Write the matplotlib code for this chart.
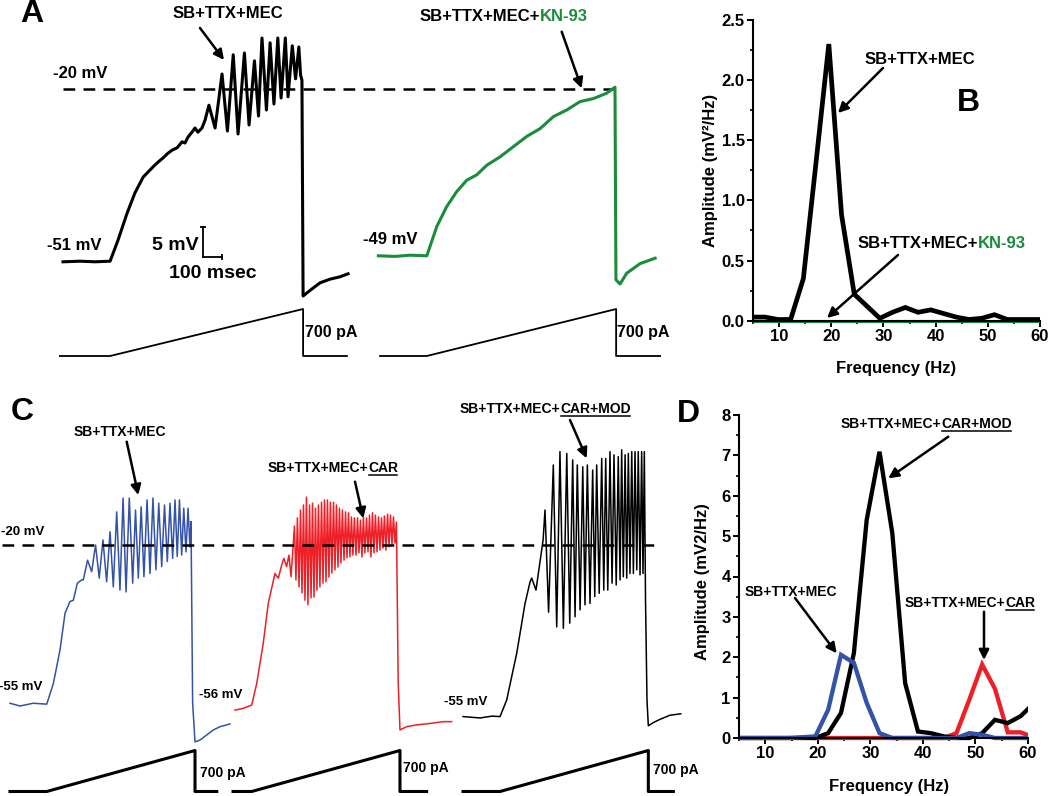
import numpy as np
import matplotlib
matplotlib.use('Agg')
import matplotlib.pyplot as plt
from matplotlib.patches import Rectangle
from matplotlib.ticker import MultipleLocator, FormatStrFormatter

plt.rcParams['font.family'] = ['Liberation Sans', 'DejaVu Sans']
plt.rcParams['font.weight'] = 'bold'

GREEN = '#1a8c3c'
BLUE = '#3352a8'
RED = '#ee1f26'

# ---------------- panel A: membrane potential (ms, mV) ----------------
a_mec_t = [0, 88, 166, 244, 285, 332, 373, 415, 466, 492, 518, 544, 565, 591, 617, 632,
           648, 668, 684, 699, 720, 736, 756, 788, 824, 852, 882, 907, 940, 964, 992, 1013,
           1031, 1054, 1073, 1093, 1113, 1130, 1152, 1166, 1188, 1205, 1222, 1231, 1238, 1244,
           1263, 1295, 1332, 1383, 1435, 1477]
a_mec_mv = [-48.8, -48.7, -48.8, -48.7, -45.2, -40.7, -37.3, -34.7, -33.0, -32.2, -31.5, -30.7,
            -30.2, -29.8, -28.8, -29.0, -28.0, -27.2, -26.5, -27.2, -26.5, -25.2, -22.7, -26.5,
            -17.5, -27.0, -14.3, -27.5, -14.0, -26.0, -15.3, -24.5, -11.5, -23.5, -12.3, -22.5,
            -11.5, -21.5, -11.5, -21.3, -12.8, -18.3, -13.0, -17.7, -18.5, -54.5, -54.0, -53.2,
            -52.3, -51.7, -51.3, -50.8]
a_kn_t = [0, 86, 164, 251, 303, 354, 406, 458, 510, 562, 631, 700, 769, 838, 907, 976,
          1045, 1114, 1183, 1226, 1231, 1252, 1287, 1356, 1434]
a_kn_mv = [-47.8, -47.9, -47.7, -47.8, -42.9, -39.6, -37.1, -35.2, -34.3, -32.7, -31.3, -29.6,
           -27.9, -26.6, -24.6, -23.5, -22.1, -21.6, -20.7, -19.7, -51.8, -52.5, -50.7, -49.1,
           -48.2]
cmd_pa = [0, 0, 700, 0, 0]
a_mec_cmd_t = [-16, 244, 1244, 1244, 1471]
a_kn_cmd_t = [9, 251, 1232, 1232, 1460]

# ---------------- spectra (Hz, mV^2/Hz) ----------------
freq_hz = [4.88, 7.32, 9.77, 12.21, 14.65, 17.09, 19.53, 21.97, 24.41, 26.86, 29.30, 31.74,
           34.18, 36.62, 39.06, 41.50, 43.95, 46.39, 48.83, 51.27, 53.71, 56.15, 58.59, 61.04]
b_mec = [0.03, 0.03, 0.01, 0.01, 0.35, 1.32, 2.30, 0.88, 0.22, 0.12, 0.02, 0.07,
         0.11, 0.07, 0.09, 0.06, 0.03, 0.01, 0.02, 0.05, 0.01, 0.01, 0.01, 0.01]
b_kn = [0.0, 0.0, 0.0, 0.0, 0.0, 0.0, 0.0, 0.0, 0.0, 0.0, 0.0, 0.0,
        0.0, 0.0, 0.0, 0.0, 0.0, 0.0, 0.0, 0.0, 0.0, 0.0, 0.0, 0.0]
d_mec = [0.0, 0.0, 0.0, 0.0, 0.0, 0.02, 0.04, 0.70, 2.06, 1.86, 0.87, 0.12,
         0.0, 0.0, 0.0, 0.0, 0.0, 0.0, 0.12, 0.08, 0.0, 0.0, 0.0, 0.0]
d_car = [None, None, None, None, None, None, 0.0, 0.0, 0.0, 0.0, 0.0, 0.0,
         0.0, 0.0, 0.0, 0.0, 0.0, 0.12, 0.95, 1.82, 1.22, 0.14, 0.14, 0.02]
d_mod = [0.0, 0.0, 0.0, 0.0, 0.0, 0.0, 0.0, 0.12, 0.62, 2.10, 5.40, 7.09,
         5.07, 1.36, 0.16, 0.12, 0.04, 0.0, 0.0, 0.12, 0.45, 0.37, 0.54, 0.85]

# ---------------- panel C traces (ms, mV) ----------------
c_mec_pre_t = [0, 68, 157, 248, 293, 338, 372, 405, 428, 455, 484]
c_mec_pre_mv = [-54.4, -55.0, -54.4, -54.6, -50.1, -42.8, -34.8, -32.3, -32.0, -28.3, -27.6]
c_mec_pk_t = [524, 578, 628, 676, 721, 764, 806, 848, 886, 926, 966, 1005, 1044, 1081, 1115,
              1145, 1174, 1203, 1223]
c_mec_pk_mv = [-23.3, -20.0, -18.9, -17.1, -12.8, -9.8, -9.8, -12.4, -11.7, -10.2, -9.8, -10.9,
               -11.3, -10.9, -10.2, -10.2, -12.0, -12.0, -14.9]
c_mec_tr_t = [495, 552, 603, 653, 698, 743, 784, 829, 867, 905, 946, 986, 1025, 1063, 1099,
              1130, 1160, 1189, 1216]
c_mec_tr_mv = [-27.6, -25.8, -27.2, -28.0, -29.1, -29.8, -30.2, -28.3, -27.2, -26.9, -26.2,
               -25.4, -24.7, -23.6, -22.9, -22.5, -22.2, -21.5, -20.4]
c_mec_post_t = [1234, 1250, 1284, 1329, 1374, 1419, 1486]
c_mec_post_mv = [-54.3, -62.8, -62.4, -61.3, -60.2, -59.5, -58.9]

c_car_pre_t = [137, 193, 250, 284, 328, 362, 385, 407, 430, 453, 468, 486, 502, 516]
c_car_pre_mv = [-55.9, -55.5, -54.8, -50.1, -41.4, -32.7, -29.4, -26.2, -27.2, -24.3, -22.9,
                -24.7, -22.2, -26.9]
c_car_pk_t = [539, 559, 580, 600, 620, 641, 661, 681, 701, 722, 742, 762, 782, 803, 823, 843,
              863, 884, 904, 924, 944, 965, 985, 1005, 1026, 1046, 1066, 1086, 1107, 1127,
              1147, 1168, 1188, 1208, 1228]
c_car_pk_mv = [-15.9, -14.1, -12.4, -11.3, -9.6, -11.3, -10.9, -12.0, -11.3, -10.7, -10.2,
               -10.2, -10.7, -10.7, -11.3, -12.0, -12.4, -12.8, -13.0, -13.9, -14.1, -14.1,
               -14.6, -13.9, -14.1, -13.5, -13.0, -13.5, -13.9, -14.1, -13.7, -13.3, -13.5,
               -13.9, -15.0]
c_car_tr_t = [549, 570, 590, 610, 630, 651, 671, 691, 711, 732, 752, 772, 792, 813, 833, 853,
              874, 894, 914, 934, 955, 975, 995, 1015, 1036, 1056, 1076, 1097, 1117, 1137,
              1157, 1178, 1198, 1218]
c_car_tr_mv = [-27.6, -29.1, -30.4, -32.0, -33.0, -31.5, -31.3, -29.8, -29.1, -28.3, -28.0,
               -27.0, -26.1, -25.4, -24.8, -23.9, -23.3, -22.8, -22.6, -22.2, -22.2, -21.7,
               -22.6, -21.7, -21.5, -22.6, -21.7, -21.5, -21.1, -20.7, -21.1, -20.4, -20.0,
               -19.6]
c_car_post_t = [1240, 1252, 1297, 1365, 1455, 1545, 1601]
c_car_post_mv = [-50.0, -60.2, -59.5, -59.1, -58.8, -58.4, -58.4]

c_mod_pre_t = [0, 115, 196, 250, 295, 363, 419, 453, 464, 493, 541, 554, 578]
c_mod_pre_mv = [-57.3, -57.6, -57.2, -57.3, -53.7, -43.5, -32.7, -28.0, -27.2, -29.8, -18.9,
                -12.4, -34.6]
c_mod_pk_t = [610, 655, 701, 741, 772, 809, 840, 876, 903, 937, 964, 993, 1020, 1049, 1072,
              1095, 1117, 1140, 1162, 1184, 1207, 1225]
c_mod_pk_mv = [-2.6, 0.3, -0.1, -1.5, -2.6, -3.0, -2.6, -3.7, -2.6, -1.2, -1.2, 0.3, -0.4,
               -0.8, 0.7, -0.4, -0.1, 0.3, 0.3, 0.3, 0.3, 0.3]
c_mod_tr_t = [633, 678, 721, 757, 791, 824, 858, 890, 920, 951, 978, 1007, 1035, 1061, 1083,
              1106, 1128, 1151, 1174, 1196, 1216]
c_mod_tr_mv = [-37.8, -38.1, -37.0, -35.6, -34.1, -33.0, -32.7, -31.2, -30.5, -29.8, -29.8,
               -28.3, -28.7, -27.6, -26.9, -27.2, -26.2, -26.2, -25.4, -26.5, -26.2]
c_mod_post_t = [1233, 1243, 1252, 1286, 1331, 1399, 1471]
c_mod_post_mv = [-32.0, -53.7, -59.3, -58.6, -57.9, -57.0, -56.7]

c_mec_cmd_t = [0, 248, 1250, 1250, 1397]
c_car_cmd_t = [124, 250, 1252, 1252, 1432]
c_mod_cmd_t = [0, 250, 1252, 1252, 1421]

# ---------------- layout ----------------
W, H = 1050, 796
fig = plt.figure(figsize=(W / 100, H / 100), dpi=100)


def px_axes(x0, y0, x1, y1):
    return fig.add_axes([x0 / W, 1 - y1 / H, (x1 - x0) / W, (y1 - y0) / H])


def trace_axes(box, x_ref, px_per_ms, y_ref, v_ref, px_per_unit):
    x0, y0, x1, y1 = box
    ax = px_axes(*box)
    ax.set_xlim((x0 - x_ref) / px_per_ms, (x1 - x_ref) / px_per_ms)
    ax.set_ylim(v_ref - (y1 - y_ref) / px_per_unit, v_ref + (y_ref - y0) / px_per_unit)
    ax.axis('off')
    return ax


def merge(pre_t, pre_v, pk_t, pk_v, tr_t, tr_v, post_t, post_v):
    t = np.concatenate([pre_t, pk_t, tr_t, post_t])
    v = np.concatenate([pre_v, pk_v, tr_v, post_v])
    order = np.argsort(t, kind='stable')
    return t[order], v[order]


# panel A
axA = trace_axes((0, 0, 700, 300), 63, 0.193, 89, -20, 6.0)
axA_cmd = trace_axes((0, 300, 700, 365), 63, 0.193, 356, 0, 47 / 700)
kn_offset = 1634
axA.plot([0, 2865], [-20, -20], color='k', lw=1.8, ls=(0, (4.7, 3.3)))
axA.plot(a_mec_t, a_mec_mv, color='k', lw=2.2, solid_joinstyle='round')
axA.plot(np.array(a_kn_t) + kn_offset, a_kn_mv, color=GREEN, lw=2.2, solid_joinstyle='round')
# scale bar 5 mV / 100 ms
sb_t, sb_v = 725, -48
axA.plot([sb_t, sb_t], [sb_v, sb_v + 5], color='k', lw=1.3)
axA.plot([sb_t, sb_t + 100], [sb_v, sb_v], color='k', lw=1.3)
axA.plot([sb_t], [sb_v + 5], marker='_', ms=5, mew=1.3, color='k')
axA.plot([sb_t + 100], [sb_v], marker='|', ms=4, mew=1.3, color='k')
axA_cmd.plot(a_mec_cmd_t, cmd_pa, color='k', lw=1.3)
axA_cmd.plot(np.array(a_kn_cmd_t) + kn_offset, cmd_pa, color='k', lw=1.3)

# panel C
axC = trace_axes((0, 395, 745, 770), 10, 0.148, 545, -20, 4.6)
axC_cmd = trace_axes((0, 735, 745, 796), 10, 0.148, 791.5, 0, 41 / 700)
car_offset, mod_offset = 1383, 3061
axC.plot([-54, 4397], [-20, -20], color='k', lw=1.8, ls=(0, (4.7, 3.3)), zorder=3)
t, v = merge(c_mec_pre_t, c_mec_pre_mv, c_mec_pk_t, c_mec_pk_mv, c_mec_tr_t, c_mec_tr_mv,
             c_mec_post_t, c_mec_post_mv)
axC.plot(t, v, color=BLUE, lw=1.1)
t, v = merge(c_car_pre_t, c_car_pre_mv, c_car_pk_t, c_car_pk_mv, c_car_tr_t, c_car_tr_mv,
             c_car_post_t, c_car_post_mv)
axC.plot(t + car_offset, v, color=RED, lw=1.1)
t, v = merge(c_mod_pre_t, c_mod_pre_mv, c_mod_pk_t, c_mod_pk_mv, c_mod_tr_t, c_mod_tr_mv,
             c_mod_post_t, c_mod_post_mv)
axC.plot(t + mod_offset, v, color='k', lw=1.1)
axC_cmd.plot(c_mec_cmd_t, cmd_pa, color='k', lw=2.2)
axC_cmd.plot(np.array(c_car_cmd_t) + car_offset, cmd_pa, color='k', lw=2.2)
axC_cmd.plot(np.array(c_mod_cmd_t) + mod_offset, cmd_pa, color='k', lw=2.2)


def spec_axes(box, ymax, ymajor, yminor, yfmt):
    ax = px_axes(*box)
    ax.set_xlim(5, 60)
    ax.set_ylim(0, ymax)
    ax.xaxis.set_major_locator(MultipleLocator(10))
    ax.xaxis.set_minor_locator(MultipleLocator(5))
    ax.yaxis.set_major_locator(MultipleLocator(ymajor))
    ax.yaxis.set_minor_locator(MultipleLocator(yminor))
    ax.yaxis.set_major_formatter(FormatStrFormatter(yfmt))
    for s in ['top', 'right']:
        ax.spines[s].set_visible(False)
    for s in ['left', 'bottom']:
        ax.spines[s].set_linewidth(1.5)
    ax.tick_params(which='major', direction='out', length=4, width=1.4, labelsize=12, pad=2)
    ax.tick_params(which='minor', direction='out', length=2.5, width=1.2)
    ax.patch.set_alpha(0)
    return ax


def spec_line(ax, y, color, lw):
    ln, = ax.plot(freq_hz, [np.nan if a is None else a for a in y], color=color, lw=lw,
                  solid_joinstyle='miter')
    ln.set_clip_path(Rectangle((0, -0.03), 1, 1.05, transform=ax.transAxes))


axB = spec_axes((753, 20, 1040, 320.7), 2.5, 0.5, 0.25, '%.1f')
spec_line(axB, b_kn, GREEN, 2.2)
spec_line(axB, b_mec, 'k', 3.4)

axD = spec_axes((739, 415, 1028, 738), 8, 1, 0.5, '%d')
spec_line(axD, d_car, RED, 3.1)
spec_line(axD, d_mod, 'k', 3.1)
spec_line(axD, d_mec, BLUE, 3.1)

# ---------------- text overlay (pixel coordinates) ----------------
ov = fig.add_axes([0, 0, 1, 1])
ov.set_xlim(0, W)
ov.set_ylim(H, 0)
ov.axis('off')
renderer = fig.canvas.get_renderer()


def txt(x, y, s, size, ha='center', color='k', rot=0):
    ov.text(x, y, s, fontsize=size, ha=ha, va='center', color=color, rotation=rot)


def parts_txt(x, y, parts, size):
    # parts: (text, color, underline); x is the centre, y the vertical centre
    base = y + 0.36 * size * 100 / 72
    widths = []
    for s, c, u in parts:
        tmp = ov.text(0, 0, s, fontsize=size)
        widths.append(tmp.get_window_extent(renderer).width)
        tmp.remove()
    x0 = x - sum(widths) / 2
    for (s, c, u), w in zip(parts, widths):
        ov.text(x0, base, s, fontsize=size, ha='left', va='baseline', color=c)
        if u:
            ov.plot([x0 + 1, x0 + w - 1], [base + 2.5, base + 2.5], color=c, lw=1.1)
        x0 += w


def arrow(x0, y0, x1, y1):
    ov.annotate('', xy=(x1, y1), xytext=(x0, y0),
                arrowprops=dict(arrowstyle='-|>', color='k', lw=1.8, mutation_scale=15,
                                shrinkA=0, shrinkB=0))


# A
txt(32, 14, 'A', 23)
txt(228, 13, 'SB+TTX+MEC', 12)
arrow(200, 28, 224, 60)
txt(80, 73, '-20 mV', 12)
txt(74, 245, '-51 mV', 12)
txt(199, 245, '5 mV', 14, ha='right')
txt(213, 273, '100 msec', 14)
txt(305, 333, '700 pA', 11.5, ha='left')
txt(390, 240, '-49 mV', 12)
parts_txt(504, 15, [('SB+TTX+MEC+', 'k', False), ('KN-93', GREEN, False)], 12)
arrow(561.7, 31.7, 581.7, 88.3)
txt(617, 333, '700 pA', 11.5, ha='left')

# B
txt(968, 103, 'B', 23)
txt(920, 59, 'SB+TTX+MEC', 12)
arrow(883, 68, 838, 113)
parts_txt(942, 242, [('SB+TTX+MEC+', 'k', False), ('KN-93', GREEN, False)], 12)
arrow(898, 255, 827, 318)
txt(896, 368, 'Frequency (Hz)', 12)
txt(710, 170, 'Amplitude (mV²/Hz)', 12, rot=90)

# C
txt(22, 412, 'C', 23)
txt(120, 432, 'SB+TTX+MEC', 10)
arrow(126.7, 441.7, 138.3, 495)
txt(23, 532, '-20 mV', 9.5)
txt(21, 687, '-55 mV', 9.5)
txt(221, 695, '-56 mV', 9.5)
txt(200, 773, '700 pA', 10, ha='left')
parts_txt(333, 467, [('SB+TTX+MEC+', 'k', False), ('CAR', 'k', True)], 10)
arrow(355, 481.7, 363.3, 518.3)
txt(466, 702, '-55 mV', 9.5)
txt(403, 768, '700 pA', 10, ha='left')
parts_txt(545, 408, [('SB+TTX+MEC+', 'k', False), ('CAR+MOD', 'k', True)], 10)
arrow(570, 420, 586.7, 458.3)
txt(653, 770, '700 pA', 10, ha='left')

# D
txt(688, 414, 'D', 23)
parts_txt(926, 423, [('SB+TTX+MEC+', 'k', False), ('CAR+MOD', 'k', True)], 10)
arrow(948.3, 436.7, 888.3, 478.3)
txt(791, 592, 'SB+TTX+MEC', 10)
arrow(795, 598, 836.7, 653.3)
parts_txt(970, 602, [('SB+TTX+MEC+', 'k', False), ('CAR', 'k', True)], 10)
arrow(984, 611.7, 984, 660)
txt(889, 787, 'Frequency (Hz)', 12)
txt(703, 582, 'Amplitude (mV2/Hz)', 12, rot=90)

fig.savefig('out.png', dpi=100)
